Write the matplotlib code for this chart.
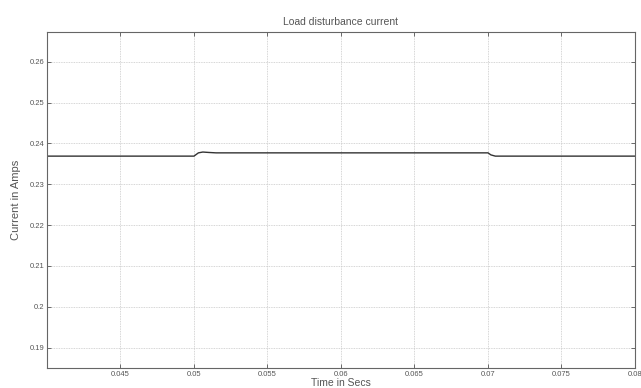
import matplotlib
matplotlib.use("Agg")
import matplotlib.pyplot as plt

# load current across the disturbance window
time_s = [0.040, 0.050, 0.0503, 0.0506, 0.0510, 0.0515, 0.070, 0.0702, 0.0705, 0.080]
current_a = [0.2369, 0.2369, 0.2377, 0.2379, 0.2378, 0.2377, 0.2377, 0.2372, 0.2369, 0.2369]

x_ticks = [0.045, 0.05, 0.055, 0.06, 0.065, 0.07, 0.075, 0.08]
x_tick_labels = ["0.045", "0.05", "0.055", "0.06", "0.065", "0.07", "0.075", "0.08"]
y_ticks = [0.19, 0.20, 0.21, 0.22, 0.23, 0.24, 0.25, 0.26]
y_tick_labels = ["0.19", "0.2", "0.21", "0.22", "0.23", "0.24", "0.25", "0.26"]

TXT = "#555555"
plt.rcParams["font.family"] = ["Liberation Sans", "DejaVu Sans"]

fig = plt.figure(figsize=(6.41, 3.88), dpi=100, facecolor="white")
ax = fig.add_axes([0.0733, 0.0515, 0.9173, 0.866])

ax.plot(time_s, current_a, color="#333333", linewidth=1.0)

ax.set_xlim(0.04, 0.08)
ax.set_ylim(0.185, 0.2673)
ax.set_xticks(x_ticks)
ax.set_xticklabels(x_tick_labels)
ax.set_yticks(y_ticks)
ax.set_yticklabels(y_tick_labels)
ax.grid(True, linestyle=(0, (1, 1)), color="#c8c8c8", linewidth=0.6)
ax.tick_params(direction="in", length=3, width=0.6, labelsize=5.5, colors=TXT,
               top=True, right=True, pad=2)
for s in ax.spines.values():
    s.set_color("#666666")
    s.set_linewidth(0.8)

ax.set_title("Load disturbance current", fontsize=7.5, color=TXT, pad=5)
ax.set_xlabel("Time in Secs", fontsize=7.5, color=TXT, labelpad=0)
ax.set_ylabel("Current in Amps", fontsize=8, color=TXT, labelpad=6)

fig.savefig("out.png", dpi=100, facecolor="white")
